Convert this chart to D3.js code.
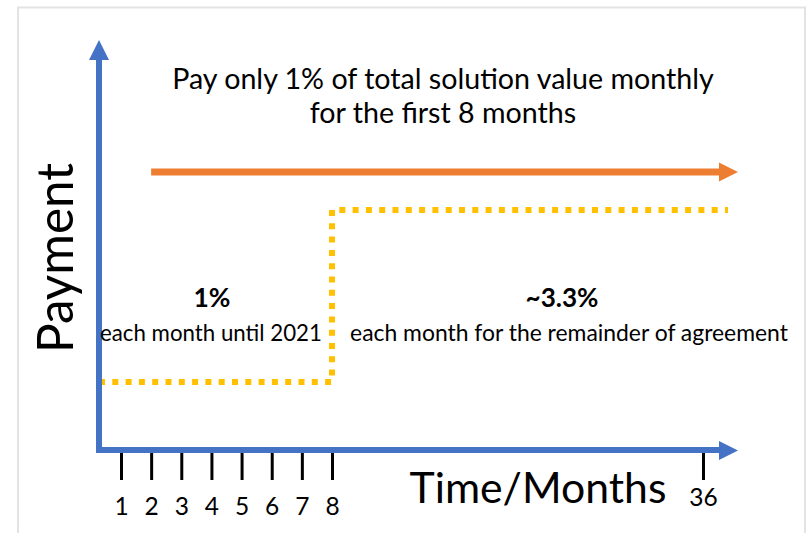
<!DOCTYPE html>
<html>
<head>
<meta charset="utf-8">
<script src="https://cdn.jsdelivr.net/npm/d3@7"></script>
<style>
  body { margin: 0; background: #fff; }
  svg { display: block; font-family: Lato, "Open Sans", sans-serif; }
</style>
</head>
<body>
<svg id="chart"></svg>
<script>
// chart values
const months = [1, 2, 3, 4, 5, 6, 7, 8, 36];
const stepMonths = [0, 8, 37];          // start, switch, end of drawn line
const stepRates = [1, 3.3, 3.3];        // % of value paid per month
const rateLabels = ["1%", "~3.3%"];
const rateNotes = ["each month until 2021", "each month for the remainder of agreement"];
const titleLines = ["Pay only 1% of total solution value monthly", "for the first 8 months"];
const xTitle = "Time/Months";
const yTitle = "Payment";

const width = 811, height = 533;
const blue = "#4472C4", orange = "#ED7D31", gold = "#FFC000";

const svg = d3.select("#chart")
    .attr("width", width)
    .attr("height", height);

// scale the font so the text takes the given width
function fitWidth(sel, w) {
    sel.attr("font-size", 100);
    let len = sel.node().getComputedTextLength();
    sel.attr("font-size", 100 * w / len);
    return sel;
}

// frame
svg.append("rect")
    .attr("x", 18).attr("y", 7.5)
    .attr("width", 787).attr("height", 540)
    .attr("fill", "none")
    .attr("stroke", "#e3e3e3")
    .attr("stroke-width", 2);

// broken time axis: months 1-8 evenly spaced, then 36
const x = d3.scaleLinear()
    .domain([0, 1, 8, 36, 37])
    .range([99, 121, 332, 703, 728]);
const y = d3.scaleLinear()
    .domain([0, 1, 3.3])
    .range([450, 382, 210]);

// tick marks + labels
const xAxis = d3.axisBottom(x)
    .tickValues(months)
    .tickSize(33)
    .tickPadding(18)
    .tickFormat(d3.format("d"));
const axisG = svg.append("g")
    .attr("transform", "translate(0,447)")
    .call(xAxis);
axisG.select(".domain").remove();
axisG.selectAll(".tick line")
    .attr("stroke", "#000")
    .attr("stroke-width", 3);
axisG.selectAll(".tick text")
    .attr("fill", "#000")
    .attr("font-size", 24.5)
    .attr("font-family", "Lato, sans-serif");
axisG.selectAll(".tick text")
    .filter(d => d === 36)
    .attr("y", 42);

// payment step line
const stepData = stepMonths.map((m, i) => ({ m: m, r: stepRates[i] }));
const stepLine = d3.line()
    .x(d => x(d.m))
    .y(d => y(d.r))
    .curve(d3.curveStepAfter);
svg.append("path")
    .datum(stepData)
    .attr("d", stepLine)
    .attr("fill", "none")
    .attr("stroke", gold)
    .attr("stroke-width", 6)
    .attr("stroke-dasharray", "6 7.3");

// axes arrows
svg.append("line")
    .attr("x1", 96).attr("y1", 450)
    .attr("x2", 722).attr("y2", 450)
    .attr("stroke", blue).attr("stroke-width", 6);
svg.append("path")
    .attr("d", "M719,441L738,450.5L719,460Z")
    .attr("fill", blue);
svg.append("line")
    .attr("x1", 99).attr("y1", 453)
    .attr("x2", 99).attr("y2", 58)
    .attr("stroke", blue).attr("stroke-width", 6);
svg.append("path")
    .attr("d", "M89,60L99,40L109,60Z")
    .attr("fill", blue);

// orange duration arrow
svg.append("line")
    .attr("x1", x(2)).attr("y1", 172)
    .attr("x2", 722).attr("y2", 172)
    .attr("stroke", orange).attr("stroke-width", 7);
svg.append("path")
    .attr("d", "M719,162.5L738,172L719,181.5Z")
    .attr("fill", orange);

// title
const title1 = fitWidth(svg.append("text")
    .attr("x", 443).attr("y", 89)
    .attr("text-anchor", "middle")
    .text(titleLines[0]), 542);
svg.append("text")
    .attr("x", 443).attr("y", 123)
    .attr("text-anchor", "middle")
    .attr("font-size", title1.attr("font-size"))
    .text(titleLines[1]);

// rate labels
const labelX = [212, 562], noteX = [211, 569];
const labelW = [37, 73], noteW = [222, 438];
rateLabels.forEach((t, i) => {
    fitWidth(svg.append("text")
        .attr("x", labelX[i]).attr("y", 307)
        .attr("text-anchor", "middle")
        .attr("font-weight", "bold")
        .text(t), labelW[i]);
    fitWidth(svg.append("text")
        .attr("x", noteX[i]).attr("y", 341)
        .attr("text-anchor", "middle")
        .text(rateNotes[i]), noteW[i]);
});

// axis titles
fitWidth(svg.append("text")
    .attr("transform", "translate(73,258) rotate(-90)")
    .attr("text-anchor", "middle")
    .text(yTitle), 190);
fitWidth(svg.append("text")
    .attr("x", 538).attr("y", 503)
    .attr("text-anchor", "middle")
    .text(xTitle), 257);
</script>
</body>
</html>
